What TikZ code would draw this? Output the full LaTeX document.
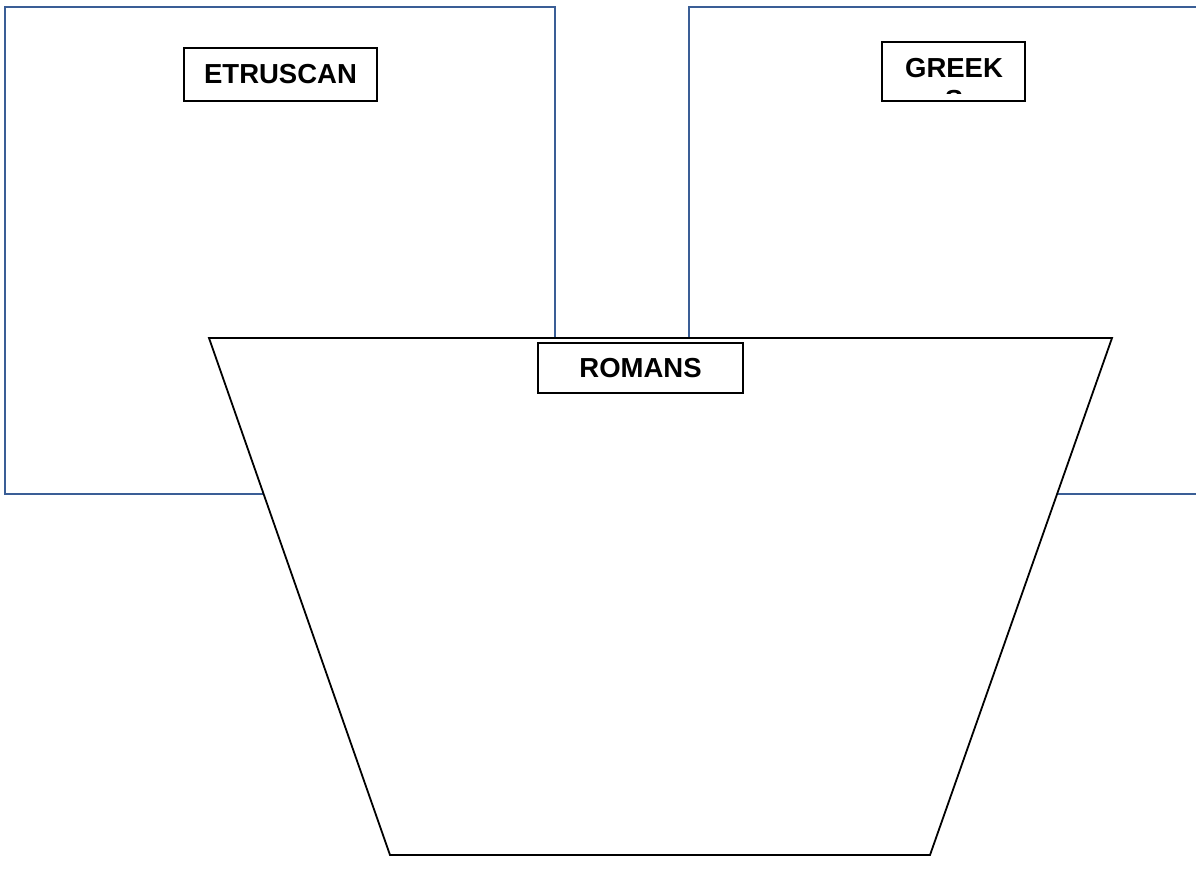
\documentclass[tikz,border=0pt]{standalone}
\usepackage{fontspec}
\setmainfont{Liberation Sans}
\definecolor{boxblue}{HTML}{3A5E96}
\begin{document}
\begin{tikzpicture}[x=1pt,y=-1pt,
  region/.style={draw=boxblue,line width=2.2pt},
  labelfont/.style={font=\fontsize{27.5}{33}\selectfont\bfseries},
  label/.style={draw=black,line width=1.2pt,fill=white,labelfont,inner sep=0pt},
  pot/.style={draw=black,line width=1.8pt,fill=white}]
\useasboundingbox (0,0) rectangle (1196,884);
% left box
\draw[region] (5,494) -- (5,7) -- (555,7) -- (555,494) -- cycle;
% right box (open on the right)
\draw[region] (1200,7) -- (689,7) -- (689,494) -- (1200,494);
% labels in top boxes
\node[label,minimum width=193pt,minimum height=53pt] (etr) at (280.5,74.5) {ETRUSCAN};
\node[label,minimum width=143pt,minimum height=59pt] (grk) at (953.5,71.5) {};
\begin{scope}
\clip (884,44) rectangle (1023,93);
\node[labelfont,anchor=base,inner sep=0pt] (grkt) at (954,77.5) {GREEK};
\node[labelfont,anchor=base,inner sep=0pt] (grks) at (954,109) {S};
\end{scope}
% trapezoid
\draw[pot] (209,338) -- (1112,338) -- (930,855) -- (390,855) -- cycle;
\node[label,minimum width=205pt,minimum height=50pt] (rom) at (640.5,368) {ROMANS};
\end{tikzpicture}
\end{document}
